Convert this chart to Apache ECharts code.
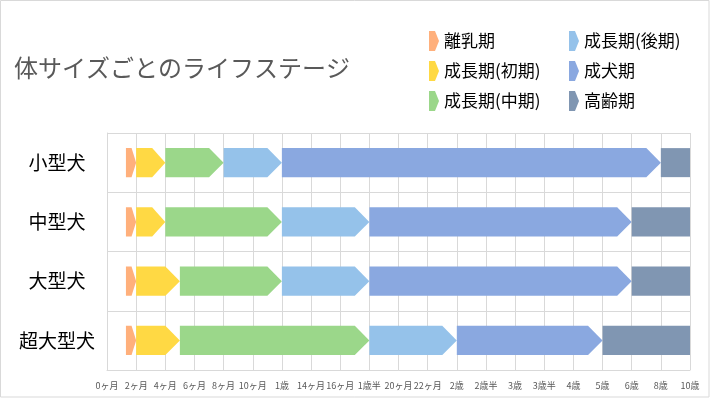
<!DOCTYPE html>
<html>
<head>
<meta charset="utf-8">
<script src="https://cdn.jsdelivr.net/npm/echarts@6/dist/echarts.min.js"></script>
<style>
  html, body { margin: 0; padding: 0; background: #fff; }
  #main { width: 710px; height: 398px; }
</style>
</head>
<body>
<div id="main"></div>
<script>
// 体サイズ（縦軸）
const sizes = ['小型犬', '中型犬', '大型犬', '超大型犬']
// ステージ名
const stages = ['離乳期', '成長期(初期)', '成長期(中期)', '成長期(後期)', '成犬期', '高齢期']
const stageColors = ['#ffb07c', '#ffd944', '#9bd78a', '#95c2ea', '#8aa8e0', '#8096b2']
// 横軸の目盛り（等間隔で並ぶ）
const tickLabels = ['0ヶ月', '2ヶ月', '4ヶ月', '6ヶ月', '8ヶ月', '10ヶ月', '1歳', '14ヶ月', '16ヶ月', '1歳半',
  '20ヶ月', '22ヶ月', '2歳', '2歳半', '3歳', '3歳半', '4歳', '5歳', '6歳', '8歳', '10歳']

// 各ステージの境目（目盛りの番号）
const smallDog = [0.65, 1, 2, 4, 6, 19, 20]
const mediumDog = [0.65, 1, 2, 6, 9, 18, 20]
const largeDog = [0.65, 1, 2.5, 6, 9, 18, 20]
const giantDog = [0.65, 1, 2.5, 9, 12, 17, 20]
const bounds = [smallDog, mediumDog, largeDog, giantDog]

const arrowPath = 'path://M0,0 L6,0 L10,10 L6,20 L0,20 Z'

function renderItem(params, api) {
  const row = api.value(0)
  const p0 = api.coord([api.value(1), row])
  const p1 = api.coord([api.value(2), row])
  const h = api.size([0, 1])[1] * 0.49
  const w = p1[0] - p0[0]
  const pointed = params.seriesIndex !== 5
  const tip = pointed ? Math.min(h / 2, w * 0.45) : 0
  const top = p0[1] - h / 2
  const bottom = p0[1] + h / 2
  return {
    type: 'polygon',
    shape: {
      points: [
        [p0[0], top],
        [p1[0] - tip, top],
        [p1[0], p0[1]],
        [p1[0] - tip, bottom],
        [p0[0], bottom]
      ]
    },
    style: { fill: api.visual('color') }
  }
}

const series = stages.map((name, i) => ({
  name,
  type: 'custom',
  renderItem,
  itemStyle: { color: stageColors[i] },
  encode: { x: [1, 2], y: 0 },
  data: bounds.map((b, r) => [r, b[i], b[i + 1]])
}))

const legendText = { fontSize: 17, color: '#000' }

const options = {
  textStyle: { fontFamily: 'Noto Sans CJK JP' },
  animation: false,
  title: {
    text: '体サイズごとのライフステージ',
    left: 9,
    top: 51,
    textStyle: { fontSize: 24, fontWeight: 'normal', color: '#595959' }
  },
  legend: [
    {
      data: stages.slice(0, 3).map(n => ({ name: n, icon: arrowPath })),
      orient: 'vertical',
      left: 424,
      top: 26,
      itemWidth: 10,
      itemHeight: 20,
      itemGap: 10,
      textStyle: legendText,
      selectedMode: false
    },
    {
      data: stages.slice(3).map(n => ({ name: n, icon: arrowPath })),
      orient: 'vertical',
      left: 564,
      top: 26,
      itemWidth: 10,
      itemHeight: 20,
      itemGap: 10,
      textStyle: legendText,
      selectedMode: false
    }
  ],
  grid: {
    left: 107,
    right: 20,
    top: 133,
    bottom: 28,
    containLabel: false
  },
  xAxis: {
    type: 'value',
    min: 0,
    max: 20,
    interval: 1,
    axisLine: { show: true, lineStyle: { color: '#d9d9d9' } },
    axisTick: { show: false },
    splitLine: { show: true, lineStyle: { color: '#d9d9d9', width: 1 } },
    axisLabel: {
      formatter: v => tickLabels[v],
      fontSize: 9,
      color: '#595959',
      margin: 11,
      hideOverlap: false
    }
  },
  yAxis: {
    type: 'category',
    data: sizes,
    inverse: true,
    axisLine: { show: true, lineStyle: { color: '#d9d9d9' } },
    axisTick: { show: false },
    splitLine: { show: true, lineStyle: { color: '#d9d9d9', width: 1 } },
    axisLabel: {
      fontSize: 19,
      color: '#000',
      align: 'center',
      margin: 50
    }
  },
  graphic: [
    {
      type: 'rect',
      shape: { x: 0.5, y: 0.5, width: 708.5, height: 396.5 },
      style: { fill: 'none', stroke: '#d9d9d9', lineWidth: 1 },
      silent: true
    }
  ],
  series
}

const myChart = echarts.init(document.getElementById('main'))
myChart.setOption(options)
</script>
</body>
</html>
